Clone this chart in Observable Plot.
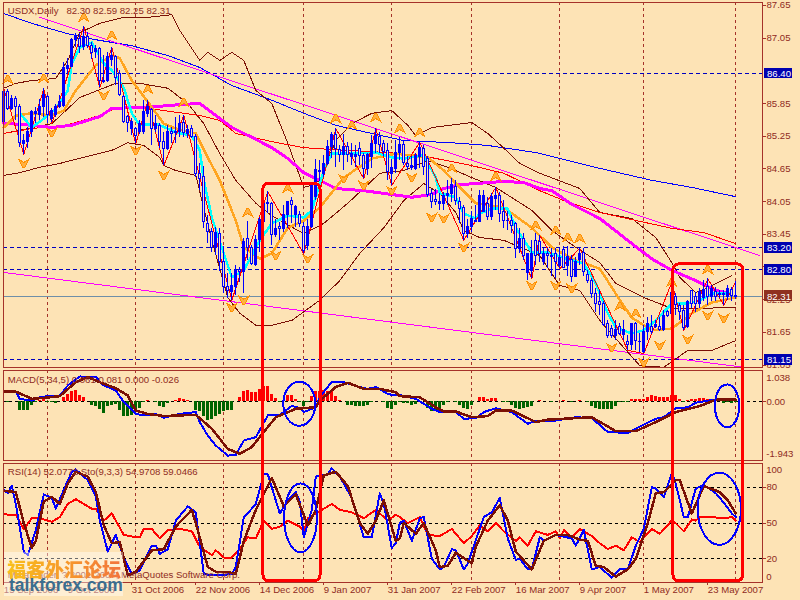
<!DOCTYPE html>
<html><head><meta charset="utf-8">
<script src="https://cdn.jsdelivr.net/npm/d3@7"></script>
<script src="https://cdn.jsdelivr.net/npm/@observablehq/plot@0.6"></script>
<style>
html,body{margin:0;padding:0;background:#fde3b5;width:800px;height:600px;overflow:hidden}
#chart{position:relative;width:800px;height:600px;font-family:"Liberation Sans",sans-serif}
#chart svg{position:absolute;left:0;background:transparent;max-width:none}
#chart svg path,#chart svg line,#chart svg rect{shape-rendering:crispEdges}
#wm{position:absolute;left:4px;top:552px;width:119px;height:44px;background:rgba(255,255,255,.42)}
#wm .cn{position:absolute;left:3px;top:6px;font:900 19px/22px "Noto Sans CJK SC";white-space:nowrap;
 background:linear-gradient(90deg,#f9c11a,#f79a2a 50%,#f2743c);-webkit-background-clip:text;color:transparent}
#wm .en{position:absolute;left:5px;top:23px;font:bold 17.5px/20px "Liberation Sans";color:#3b6e8f;white-space:nowrap}
</style></head><body><div id="chart"></div>
<script>
const open=[85.51,86.06,85.75,85.93,85.79,85.11,85.14,85.32,85.66,85.63,85.78,85.97,85.57,85.63,85.78,85.81,86.49,86.52,87.01,87.04,
86.88,87.07,86.91,86.79,86.85,86.25,86.27,86.65,86.70,86.39,85.97,85.60,85.38,85.38,85.32,85.32,85.66,85.73,85.38,85.43,
85.14,85.02,85.32,85.30,85.32,85.49,85.29,85.38,85.24,84.56,84.50,83.64,83.49,83.19,83.46,82.94,82.48,82.39,82.49,82.79,
82.76,83.37,83.19,82.88,83.34,83.68,84.02,84.01,83.43,83.58,83.55,83.80,84.07,83.80,83.80,83.59,83.23,83.58,84.13,84.62,
84.56,84.74,85.06,85.28,85.00,84.90,85.06,84.87,84.87,85.02,84.88,84.65,84.87,85.11,85.23,85.11,84.97,84.56,84.65,84.95,
85.08,84.74,84.67,84.65,84.87,85.02,84.84,84.19,84.08,84.01,84.01,84.16,84.19,84.32,84.04,83.94,83.45,83.58,83.70,83.67,
83.86,84.01,83.76,84.10,84.16,83.86,83.70,83.70,83.64,83.18,83.37,82.74,82.78,83.32,83.31,82.94,83.08,83.04,83.08,82.86,
83.17,82.86,82.97,82.67,82.97,83.11,82.70,82.60,82.36,82.21,82.18,81.81,81.72,81.58,81.75,81.60,81.47,81.41,81.81,81.48,
81.29,81.66,81.75,81.75,81.75,81.69,82.02,81.99,82.30,82.13,82.05,81.75,82.41,82.30,82.18,82.29,82.48,82.30,82.39,82.36,
82.33,82.30,82.43,82.30];
const close=[86.06,85.75,85.93,85.78,85.12,85.17,85.32,85.69,85.69,85.78,86.00,85.63,85.72,85.78,85.87,86.50,86.53,87.02,87.07,86.88,
87.07,86.91,86.77,86.85,86.27,86.27,86.70,86.73,86.32,86.01,85.51,85.49,85.51,85.26,85.48,85.69,85.79,85.38,85.48,85.14,
85.02,85.32,85.29,85.32,85.48,85.31,85.37,85.23,84.56,84.47,83.68,83.49,83.19,83.47,82.94,82.48,82.41,82.51,82.78,82.76,
83.31,83.19,82.91,83.34,83.71,84.01,84.00,83.43,83.55,83.55,83.80,84.04,83.98,83.95,83.64,83.15,83.58,84.35,84.63,84.59,
84.74,85.06,85.28,85.02,84.90,85.06,84.90,84.93,84.90,84.88,84.65,84.90,85.11,85.25,85.08,84.96,84.59,84.67,84.95,85.08,
84.76,84.69,84.71,84.88,85.04,84.69,84.17,84.04,84.05,84.04,84.16,84.19,84.35,84.06,83.92,83.46,83.58,83.73,83.67,84.16,
84.16,83.76,84.13,84.16,83.83,83.70,83.69,83.61,83.18,83.37,83.06,83.08,83.08,83.06,83.08,83.08,83.06,83.06,82.94,83.02,
82.84,83.03,82.67,82.94,83.08,82.76,82.60,82.36,82.18,82.15,81.78,81.58,81.58,81.70,81.62,81.69,81.41,81.80,81.49,81.47,
81.66,81.80,81.66,81.78,81.69,81.96,81.96,82.37,82.15,82.02,81.73,82.21,82.18,82.18,82.39,82.43,82.30,82.45,82.30,82.33,
82.36,82.45,82.31,82.31];
const high=[86.12,86.10,86.00,85.97,85.84,85.29,85.41,85.72,85.78,85.93,86.12,86.00,85.75,85.84,86.00,86.61,86.67,87.04,87.13,87.13,
87.26,87.16,86.97,86.91,86.87,86.73,86.79,86.88,86.73,86.45,86.00,85.63,85.57,85.41,85.54,85.90,85.90,85.75,85.63,85.48,
85.32,85.45,85.41,85.60,85.63,85.63,85.45,85.45,85.29,84.74,84.70,83.80,83.55,83.57,83.55,83.22,82.73,82.73,82.88,82.84,
83.37,83.69,83.25,83.43,83.75,84.10,84.23,84.04,83.73,83.67,83.98,84.04,84.13,83.98,83.86,83.67,83.73,84.38,84.83,84.80,
84.90,85.17,85.32,85.39,85.08,85.29,85.14,85.11,85.08,85.14,84.93,84.93,85.26,85.39,85.32,85.17,85.11,84.83,85.17,85.23,
85.17,84.87,84.87,84.93,85.14,85.08,84.87,84.28,84.28,84.19,84.22,84.44,84.47,84.44,84.13,83.98,83.73,83.86,83.98,84.25,
84.25,84.13,84.19,84.31,84.22,84.07,83.86,83.80,83.67,83.55,83.46,83.09,83.34,83.46,83.43,83.19,83.19,83.19,83.19,83.19,
83.22,83.22,83.06,83.03,83.19,83.19,82.79,82.63,82.45,82.42,82.21,81.87,81.78,81.87,81.81,81.87,81.59,81.81,81.84,81.63,
81.78,81.93,81.96,81.87,81.93,82.05,82.05,82.57,82.36,82.18,82.15,82.24,82.42,82.39,82.45,82.60,82.63,82.51,82.48,82.42,
82.42,82.51,82.48,82.59];
const low=[85.48,85.72,85.72,85.54,85.05,84.92,85.02,85.23,85.48,85.54,85.60,85.48,85.51,85.60,85.75,85.78,86.39,86.52,86.88,86.76,
86.82,86.85,86.65,86.67,86.14,86.21,86.24,86.52,86.18,85.97,85.48,85.32,85.26,85.11,85.29,85.29,85.60,85.08,85.32,85.02,
84.71,84.99,85.11,85.11,85.23,85.23,85.20,85.20,84.50,84.25,83.55,83.28,83.11,83.06,82.76,82.36,82.27,82.24,82.33,82.57,
82.37,82.97,82.88,82.86,83.12,83.67,83.83,83.24,83.40,83.34,83.49,83.55,83.64,83.58,83.58,83.09,83.15,83.55,84.07,84.41,
84.50,84.71,84.84,84.68,84.77,84.62,84.77,84.71,84.68,84.71,84.47,84.53,84.65,84.93,84.93,84.87,84.44,84.35,84.56,84.80,
84.71,84.62,84.62,84.62,84.65,84.53,84.13,83.92,83.98,83.89,83.89,83.98,84.04,83.98,83.64,83.34,83.37,83.49,83.67,83.67,
83.86,83.70,83.70,83.89,83.67,83.55,83.52,83.46,83.00,83.09,82.97,82.60,82.63,82.88,82.94,82.88,82.82,82.67,82.63,82.82,
82.82,82.67,82.57,82.67,82.88,82.67,82.54,82.27,82.02,81.96,81.75,81.53,81.53,81.50,81.59,81.50,81.32,81.32,81.32,81.29,
81.26,81.50,81.62,81.72,81.66,81.66,81.93,81.84,81.96,81.87,81.69,81.72,82.08,82.02,82.08,82.21,82.15,82.21,82.21,82.27,
82.15,82.24,82.21,82.25];

const longBlueBars=[0,7,16,23,32,41,49,57,67,75,83,92,100,112,121,133,149,162,172,183];
const longBlueVals=[87.50,87.32,87.13,87.02,86.91,86.73,86.51,86.18,85.91,85.67,85.45,85.30,85.17,85.13,85.08,84.95,84.66,84.44,84.31,84.14];
const trendBars=[9,189], trendVals=[87.43,83.06];
const supportBars=[0,185], supportVals=[82.75,81.01];
const thickMaBars=[0,7,12,17,24,27,36,44,49,53,57,62,67,71,75,79,83,90,97,102,107,110,114,125,130,134,137,142,149,157,162,167,173,178,182];
const thickMaVals=[85.49,85.45,85.41,85.45,85.61,85.76,85.78,85.83,85.85,85.63,85.41,85.23,85.04,84.84,84.58,84.44,84.29,84.25,84.18,84.13,84.18,84.29,84.36,84.42,84.40,84.29,84.25,84.00,83.74,83.28,83.00,82.79,82.60,82.42,82.36];
const redMaBars=[0,7,16,24,28,36,43,49,54,58,67,75,83,96,104,117,125,134,140,149,157,167,175,183];
const redMaVals=[85.30,85.39,85.46,85.63,85.76,85.76,85.69,85.63,85.54,85.30,85.15,85.04,85.00,84.95,84.90,84.71,84.57,84.25,84.07,83.85,83.72,83.56,83.48,83.28];
const orangeBars=[0,3,7,12,15,18,23,27,29,32,37,40,43,48,51,54,58,60,64,67,71,75,79,85,92,98,106,110,114,118,125,132,137,143,149,153,157,162,167,172,177,183];
const orangeVals=[85.41,85.63,85.67,85.63,85.72,86.09,86.55,86.73,86.68,86.27,85.78,85.48,85.39,85.30,84.86,84.44,83.70,83.21,83.00,83.10,83.57,83.70,83.94,84.49,84.84,84.93,84.86,84.62,84.31,84.02,83.94,83.57,83.21,82.97,82.82,82.36,81.92,81.69,81.72,82.00,82.20,82.29];
const cyanBars=[4,7,10,13,16,17,19,22,25,27,30,32,34,38,41,43,47,49,50,52,55,57,60,64,67,71,75,77,80,82,87,93,97,100,105,108,109,113,115,118,119,122,126,128,132,136,140,145,148,151,153,157,160,163,167,171,174,177,182];
const cyanVals=[85.67,85.41,85.57,85.76,86.09,86.58,86.88,86.97,86.58,86.46,86.14,85.67,85.45,85.48,85.39,85.32,85.26,84.99,84.44,83.76,83.10,82.66,82.79,83.34,83.65,83.79,83.76,83.89,84.62,84.93,84.93,84.95,84.86,84.84,84.90,84.49,84.20,84.13,83.83,83.74,83.83,83.92,83.92,83.57,83.12,83.12,83.02,82.91,82.55,82.00,81.74,81.63,81.69,81.87,82.18,82.18,82.24,82.36,82.36];
const bandUpBars=[0,3,7,13,16,19,24,30,36,42,44,49,51,54,57,60,63,67,71,75,77,79,83,87,92,97,101,103,107,117,121,125,129,134,144,149,157,163,167,169,173,176,182];
const bandUpVals=[86.13,86.22,86.27,86.31,86.64,87.15,87.32,87.43,87.43,87.48,87.19,86.64,86.79,86.64,86.79,86.64,86.09,85.85,85.12,84.31,84.35,84.44,85.17,85.48,85.67,85.72,85.45,85.26,85.41,85.50,85.30,85.03,84.75,84.57,84.29,83.85,83.74,83.39,82.93,82.66,82.38,82.47,82.69];
const bandMidBars=[0,12,19,28,34,41,46,50,54,58,63,67,75,80,86,94,100,106,111,117,123,132,137,143,149,153,160,167,174,183];
const bandMidVals=[85.30,85.48,85.96,86.22,86.22,86.13,85.85,85.48,84.93,84.44,84.02,83.79,83.46,83.65,84.02,84.57,84.62,84.80,84.68,84.49,84.31,83.89,83.52,83.21,82.93,82.55,82.29,82.09,82.09,82.11];
const bandLowBars=[0,4,9,14,22,27,31,35,39,40,43,48,52,56,59,63,67,72,79,84,89,95,100,105,109,113,115,119,125,134,139,144,149,155,159,165,171,177,183];
const bandLowVals=[84.53,84.58,84.68,84.75,84.90,84.99,85.13,85.08,84.86,84.71,84.62,84.53,83.34,82.29,82.00,81.78,81.78,81.87,82.24,82.60,83.10,83.57,84.07,84.38,84.20,83.85,83.52,83.39,83.34,83.06,82.51,82.42,81.87,81.37,81.04,81.01,81.32,81.32,81.50];
const zigzagBars=[0,5,10,12,20,24,27,33,36,40,45,57,66,75,83,90,93,97,104,115,123,132,134,139,144,156,160,167,170,176,180,183];
const zigzagVals=[86.12,84.92,86.12,85.48,87.26,86.14,86.88,85.11,85.90,84.71,85.63,82.24,84.23,83.09,85.39,84.47,85.39,84.35,85.14,83.34,84.31,82.63,83.43,82.82,83.19,81.32,81.26,82.57,81.69,82.63,82.15,82.59];
const upArrowBars=[1,10,20,27,36,45,61,71,83,87,93,99,104,112,123,133,138,141,144,154,158,167,176];
const upArrowVals=[86.29,86.31,87.43,87.10,86.11,85.87,83.85,84.29,85.57,85.45,85.59,85.39,85.32,84.66,84.51,83.61,83.52,83.39,83.37,82.13,82.00,82.57,82.80];
const downArrowBars=[5,12,25,33,40,57,60,68,76,85,90,97,102,107,110,115,132,138,142,152,160,164,171,176,180];
const downArrowVals=[84.75,85.32,86.00,84.99,84.53,82.11,82.24,83.06,83.00,84.47,84.35,84.25,84.49,83.76,83.74,83.21,82.51,82.51,82.46,81.37,81.10,81.41,81.52,81.96,81.91];

const gridBars=[11,33,55,75,97,117,139,160,183];
const dashLevels=[86.40,83.20,82.80,81.15];
const lastPrice=82.31;
const priceTicks=[87.65,87.05,85.85,85.25,84.65,84.05,83.45,82.85,82.25,81.65,81.05];

const histogram=[0,-.03,0,0,-.28,-.30,-.30,-.13,-.02,.06,.13,-.02,-.03,-.04,0,.13,.24,.35,.39,.22,
.13,.02,-.11,-.15,-.24,-.39,-.17,-.13,-.09,-.28,-.48,-.48,-.44,-.33,-.22,-.03,.06,.01,-.03,-.15,
-.20,-.06,0,.03,.10,.08,.06,0,-.28,-.33,-.47,-.61,-.58,-.50,-.42,-.33,-.30,-.28,.01,.13,
.33,.39,.31,.30,.41,.50,.50,.24,.11,-.02,.01,.20,.20,.09,-.02,-.15,-.02,.17,.35,.35,
.36,.33,.33,.17,.04,0,-.13,-.13,-.15,-.15,-.17,-.11,-.02,0,.02,-.01,-.22,-.24,-.11,-.02,
-.06,-.06,-.13,-.08,-.01,0,-.22,-.33,-.33,-.28,-.13,-.01,.02,-.01,-.11,-.22,-.24,-.13,0,.14,
.15,.09,.12,.11,.02,-.02,-.01,-.11,-.22,-.24,-.22,-.20,-.17,0,.04,.02,.01,-.01,.01,0,
.03,0,-.02,0,.04,.01,-.03,-.15,-.22,-.24,-.24,-.26,-.24,-.17,-.03,-.03,-.01,.09,.08,.08,
.08,.14,.22,.19,.13,.13,.14,.22,.20,.09,-.02,.03,.09,.08,.11,.11,.07,.02,.07,.01,
-.04,-.02,-.04,-.03];
const macdBars=[0,3,4,7,9,11,14,16,19,23,25,28,30,33,35,38,40,44,48,49,51,53,56,58,60,63,66,69,72,74,75,78,79,82,85,88,91,93,96,98,99,103,107,109,113,115,118,120,123,127,131,133,138,143,147,151,156,158,163,165,168,171,173,178,183];
const macdVals=[.34,.34,.10,.04,.15,.19,.21,.54,.84,.82,.54,.38,-.01,-.40,-.45,-.40,-.53,-.40,-.34,-.67,-1.12,-1.45,-1.78,-1.76,-1.28,-1.17,-.45,-.43,-.14,-.20,-.34,-.18,.15,.67,.65,.52,.43,.49,.26,.21,.23,.10,-.23,-.34,-.34,-.56,-.54,-.34,-.21,-.34,-.73,-.62,-.62,-.51,-.54,-1.00,-1.03,-.89,-.56,-.51,-.21,-.18,-.03,.08,.08];
const signalBars=[0,3,7,10,14,18,21,24,28,31,33,36,40,44,48,52,56,59,62,65,68,73,78,79,83,86,90,94,98,99,104,108,110,113,117,121,123,127,133,136,147,153,158,163,168,174,178,183];
const signalVals=[.34,.34,.10,.13,.19,.65,.82,.65,.45,.21,-.29,-.40,-.47,-.45,-.43,-.89,-1.56,-1.72,-1.50,-1.00,-.51,-.23,-.18,.04,.49,.63,.43,.43,.32,.19,.15,-.18,-.32,-.32,-.51,-.47,-.29,-.29,-.67,-.59,-.51,-.97,-.97,-.67,-.34,-.14,.07,.07];

const stochBars=[0,1,2,3,5,6,8,10,12,13,15,17,18,21,23,24,26,28,30,32,34,37,38,39,41,43,46,48,50,53,57,58,60,62,63,65,66,69,71,73,74,75,77,78,81,82,84,87,90,92,94,95,97,98,99,100,102,104,105,107,109,110,112,113,115,116,120,122,124,126,128,129,131,132,134,135,138,142,143,145,147,149,152,154,156,158,160,162,163,165,167,168,170,171,173,175,178,180,182,183];
const stochVals=[78,75,81,66,26,23,44,74,71,62,78,93,95,86,72,52,26,40,21,7,10,31,31,24,28,52,64,59,7,6,7,13,55,62,66,91,91,58,69,76,68,38,61,89,91,96,89,71,38,38,75,66,29,33,50,52,35,54,55,20,11,13,28,27,11,16,55,59,71,37,19,20,11,11,38,35,40,37,31,44,11,13,4,11,11,31,45,80,79,72,92,83,55,55,79,82,75,67,58,55];
const stochSigBars=[0,3,5,7,8,10,12,14,16,18,21,23,25,27,29,31,33,37,40,43,47,48,51,53,56,58,60,63,67,70,73,76,78,80,83,86,89,91,93,95,98,99,100,103,105,108,109,111,113,117,118,121,124,126,128,132,135,138,141,144,146,148,150,153,156,158,161,163,165,168,169,172,175,179,181,183];
const stochSigVals=[77,76,50,29,35,68,72,66,83,93,89,76,48,33,34,6,9,27,28,47,61,50,13,9,9,7,35,61,88,64,74,48,61,90,93,81,50,41,52,69,35,37,50,41,50,27,13,14,25,16,30,52,65,52,26,11,35,40,40,36,35,14,13,5,11,20,50,75,76,86,86,58,81,76,69,58];
const rsiBars=[0,1,3,5,7,9,12,14,16,18,22,23,25,27,30,33,34,35,37,39,41,44,47,49,52,53,55,57,59,61,63,65,67,69,71,74,75,76,79,82,84,87,90,93,96,98,99,101,104,106,109,112,115,117,119,121,123,125,128,129,131,133,136,138,139,140,142,144,147,149,151,153,155,157,159,162,164,166,167,170,172,173,174,177,180,182,183];
const rsiVals=[58,57,57,45,54,54,51,55,66,70,62,62,52,58,40,38,38,45,45,37,44,45,43,30,23,27,21,21,28,38,37,52,45,47,52,47,43,54,60,66,61,59,54,61,52,57,55,50,55,40,39,45,33,39,48,43,50,43,35,38,31,43,40,43,37,44,38,45,39,33,28,31,27,38,34,45,41,48,53,43,53,52,55,55,54,55,52];
const rsiLevels=[80,50,20];

const dateBars=[0,16,32,48,64,80,96,112,128,144,160,176];
const dateLabels=["15 Sep 2006","9 Oct 2006","31 Oct 2006","22 Nov 2006","14 Dec 2006","9 Jan 2007","31 Jan 2007","22 Feb 2007","16 Mar 2007","9 Apr 2007","1 May 2007","23 May 2007"];

const BG="#fde3b5",BROWN="#a5322a",TXT="#8f2a22",BLUE="#0000ff",NAVY="#0000c0";
const pts=(b,v)=>b.map((bar,k)=>({bar,value:v[k]}));
const bars=close.map((c,i)=>({i,open:open[i],high:high[i],low:low[i],close:c}));
const hist=histogram.map((v,i)=>({i,v}));
const axisBar=190.2;
const FS=9.6;
const xDomain=[-0.075,189.675];
const base={width:800,marginLeft:3,marginRight:38,x:{domain:xDomain,axis:null},style:{background:"transparent",fontFamily:'"Liberation Sans",sans-serif',fontSize:FS+"px",overflow:"visible"}};
const vgrid=Plot.ruleX(gridBars,{stroke:BROWN,strokeWidth:1,strokeDasharray:"3,3"});
const line=(b,v,stroke,strokeWidth)=>Plot.line(pts(b,v),{x:"bar",y:"value",stroke,strokeWidth,curve:"linear"});
const frame=Plot.frame({stroke:BROWN,strokeWidth:1});
const chevron=(k)=>({draw(c,s){c.moveTo(-5,4*k);c.lineTo(-1,-4*k);c.lineTo(1,-4*k);c.lineTo(5,4*k);c.lineTo(0,1*k);c.closePath();}});
const note=(text,y)=>Plot.text([text],{x:[1],y:[y],text:d=>d,textAnchor:"start",fill:TXT,fontSize:FS});
const ellipse=(x1,x2,y1,y2)=>Plot.rect([0],{x1:[x1],x2:[x2],y1:[y1],y2:[y2],fill:"none",stroke:BLUE,strokeWidth:2,rx:"50%",ry:"50%"});

const main=Plot.plot({...base,height:368,marginTop:2,marginBottom:1,
 y:{domain:[81.006,87.703],axis:null},
 marks:[
  vgrid,
  Plot.ruleY(dashLevels,{stroke:NAVY,strokeWidth:1,strokeDasharray:"4,3"}),
  Plot.ruleY([lastPrice],{stroke:"#6f8fa8",strokeWidth:1}),
  line(longBlueBars,longBlueVals,BLUE,1),
  line(trendBars,trendVals,"#ff00ff",1),
  line(supportBars,supportVals,"#ff00ff",1),
  line(bandUpBars,bandUpVals,"#7a1005",1),
  line(bandMidBars,bandMidVals,"#7a1005",1),
  line(bandLowBars,bandLowVals,"#7a1005",1),
  line(redMaBars,redMaVals,"#ff0000",1),
  line(thickMaBars,thickMaVals,"#ff00ff",3),
  line(orangeBars,orangeVals,"#ffa520",2.5),
  line(cyanBars,cyanVals,"#00ffff",2.5),
  line(zigzagBars,zigzagVals,"#ff0000",1),
  Plot.ruleX(bars,{x:"i",y1:"low",y2:"high",stroke:BLUE,strokeWidth:1}),
  Plot.rect(bars,{x1:d=>d.i-.28,x2:d=>d.i+.28,y1:"open",y2:"close",fill:d=>d.close>=d.open?BLUE:BG,stroke:BLUE,strokeWidth:1}),
  Plot.dot(pts(upArrowBars,upArrowVals),{x:"bar",y:"value",symbol:chevron(1),r:5,fill:"#ffb040",stroke:"#ff9000",strokeWidth:1}),
  Plot.dot(pts(downArrowBars,downArrowVals),{x:"bar",y:"value",symbol:chevron(-1),r:5,fill:"#ffb040",stroke:"#ff9000",strokeWidth:1}),
  frame,
  Plot.axisY(priceTicks,{anchor:"right",tickSize:3,tickPadding:1,stroke:BROWN,fill:TXT,fontSize:FS,tickFormat:d=>d.toFixed(2),label:null}),
  Plot.rect(dashLevels,{x1:axisBar,x2:axisBar+7,y1:d=>d-.1,y2:d=>d+.1,fill:"#0000b0"}),
  Plot.rect([lastPrice],{x1:axisBar,x2:axisBar+7,y1:d=>d-.1,y2:d=>d+.1,fill:"#8f3020"}),
  Plot.text([...dashLevels,lastPrice],{x:axisBar+.6,y:d=>d,text:d=>d.toFixed(2),textAnchor:"start",fill:"white",fontSize:FS}),
  note("USDX,Daily\u00a0\u00a0\u00a082.30 82.59 82.25 82.31",87.54)
 ]});
main.style.top="0px";

const macd=Plot.plot({...base,height:93,marginTop:2,marginBottom:1,
 y:{domain:[-1.943,1.038],axis:null},
 marks:[
  vgrid,
  Plot.ruleY([0],{stroke:"black",strokeWidth:1,strokeDasharray:"3,3"}),
  Plot.ruleX(hist,{x:"i",y1:0,y2:"v",stroke:d=>d.v>=0?"#ff0000":"#006400",strokeWidth:3}),
  line(macdBars,macdVals,BLUE,2),
  line(signalBars,signalVals,"#7a1005",2.5),
  ellipse(70,78,.65,-.81),
  ellipse(177.9,184,.56,-.86),
  frame,
  note("MACD(5,34,5) 0.061 0.081 0.000 -0.026",.73),
  Plot.axisY([0],{anchor:"right",tickSize:3,tickPadding:1,stroke:BROWN,fill:TXT,fontSize:FS,tickFormat:d=>d.toFixed(2),label:null}),
  Plot.text([1.038],{x:axisBar+.4,y:d=>d,dy:7,text:d=>d.toFixed(3),textAnchor:"start",fill:TXT,fontSize:FS}),
  Plot.text([-1.943],{x:axisBar+.4,y:d=>d,dy:-7,text:d=>d.toFixed(3),textAnchor:"start",fill:TXT,fontSize:FS})
 ]});
macd.style.top="368px";

const rsi=Plot.plot({...base,height:139,marginTop:2,marginBottom:18,
 y:{domain:[0,100],axis:null},
 marks:[
  vgrid,
  Plot.ruleY(rsiLevels,{stroke:"black",strokeWidth:1,strokeDasharray:"3,3"}),
  line(rsiBars,rsiVals,"#ff0000",2),
  line(stochBars,stochVals,BLUE,2),
  line(stochSigBars,stochSigVals,"#7a1005",2.5),
  ellipse(70.2,78.4,82.8,25),
  ellipse(173.6,184.4,91.8,31.2),
  frame,
  note("RSI(14) 52.0772 Sto(9,3,3) 54.9708 59.0466",93),
  note("MetaTrader, ? 2001-2007, MetaQuotes Software Corp.",6),
  Plot.axisY(rsiLevels,{anchor:"right",tickSize:3,tickPadding:1,stroke:BROWN,fill:TXT,fontSize:FS,label:null}),
  Plot.text([100],{x:axisBar+.4,y:d=>d,dy:6,text:d=>d,textAnchor:"start",fill:TXT,fontSize:FS}),
  Plot.text([0],{x:axisBar+.4,y:d=>d,dy:-6,text:d=>d,textAnchor:"start",fill:TXT,fontSize:FS}),
  Plot.axisX(dateBars,{anchor:"bottom",tickSize:3,tickPadding:1,textAnchor:"start",stroke:BROWN,fill:TXT,fontSize:FS,label:null,tickFormat:d=>dateLabels[dateBars.indexOf(d)]})
 ]});
rsi.style.top="461px";

// Hand-drawn boxes span all panels, so they share the price scale extended down the page.
const boxBars1=[64.9,79.2], boxBars2=[167.4,184.9];
const boxTops=[84.38,82.90], boxBottom=77.08;
const overlay=Plot.plot({...base,height:600,marginTop:0,marginBottom:0,
 y:{domain:[76.73,87.74],axis:null},
 marks:[
  Plot.rect([0],{x1:[boxBars1[0]],x2:[boxBars1[1]],y1:[boxTops[0]],y2:[boxBottom],fill:"none",stroke:"#ff0000",strokeWidth:3,rx:6}),
  Plot.rect([0],{x1:[boxBars2[0]],x2:[boxBars2[1]],y1:[boxTops[1]],y2:[boxBottom],fill:"none",stroke:"#ff0000",strokeWidth:3,rx:6})
 ]});
overlay.style.top="0px";

const chart=document.getElementById("chart");
chart.append(main,macd,rsi,overlay);
const wm=document.createElement("div");wm.id="wm";
wm.innerHTML='<div class="cn">福客外汇论坛</div><div class="en">talkforex.com</div>';
chart.append(wm);
</script></body></html>
